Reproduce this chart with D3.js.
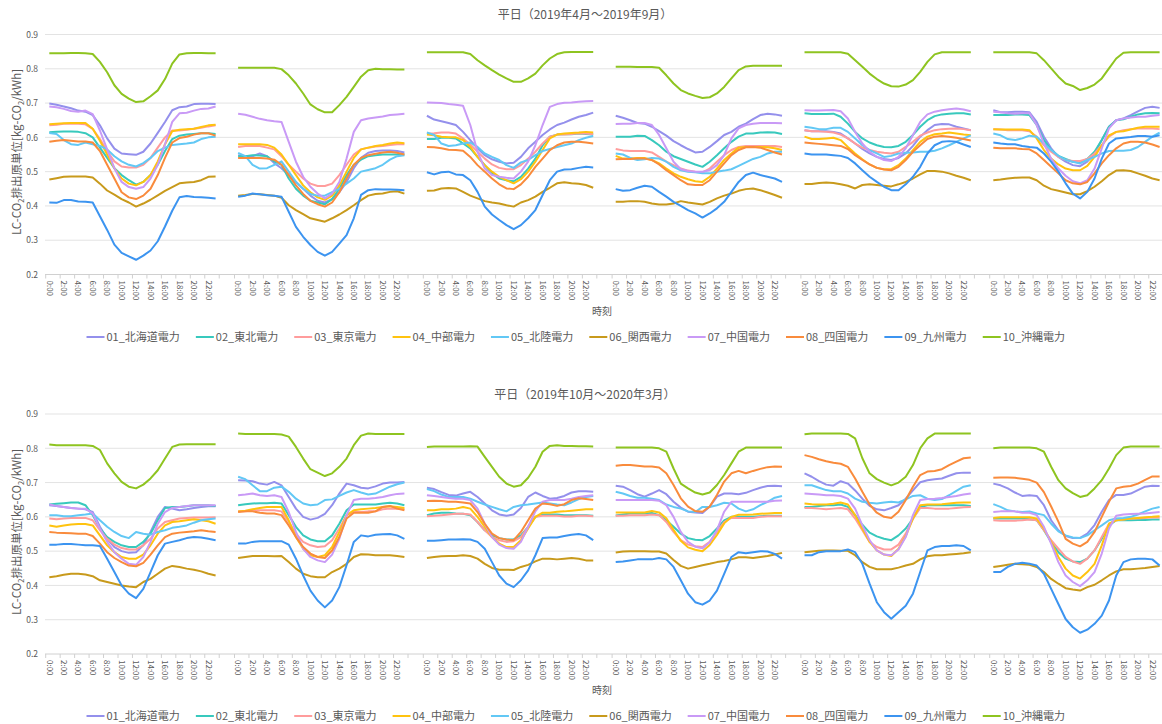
<!DOCTYPE html>
<html lang="ja">
<head>
<meta charset="utf-8">
<script src="https://cdn.jsdelivr.net/npm/d3@7"></script>
<style>
  body { margin: 0; background: #fff; }
  text { font-family: "Noto Sans CJK JP", "Noto Sans", sans-serif; fill: #595959; }
</style>
</head>
<body>
<svg id="chart"></svg>
<script>
// hourly categories and labels
const hours = [0, 1, 2, 3, 4, 5, 6, 7, 8, 9, 10, 11, 12, 13, 14, 15, 16, 17, 18, 19, 20, 21, 22, 23];
const hourLabels = ['0:00', '1:00', '2:00', '3:00', '4:00', '5:00', '6:00', '7:00', '8:00', '9:00', '10:00', '11:00',
  '12:00', '13:00', '14:00', '15:00', '16:00', '17:00', '18:00', '19:00', '20:00', '21:00', '22:00', '23:00'];
const labelledHours = [0, 2, 4, 6, 8, 10, 12, 14, 16, 18, 20, 22];
const yTicks = [0.2, 0.3, 0.4, 0.5, 0.6, 0.7, 0.8, 0.9];

const companies = ['01_北海道電力', '02_東北電力', '03_東京電力', '04_中部電力', '05_北陸電力',
  '06_関西電力', '07_中国電力', '08_四国電力', '09_九州電力', '10_沖縄電力'];
const colors = ['#9490ec', '#38c9bd', '#ff9c9c', '#ffc30f', '#62c8f5',
  '#c89a1c', '#c99af6', '#f98b3c', '#3c94f0', '#8ec420'];

const titles = ['平日（2019年4月～2019年9月）', '平日（2019年10月～2020年3月）'];

// one array per month, series in the order of `companies`
const apr2019 = [
  [.699,.695,.69,.685,.678,.675,.665,.635,.597,.567,.553,.551,.549,.558,.582,.613,.645,.679,.688,.69,.697,.698,.698,.697],
  [.615,.616,.617,.617,.616,.612,.6,.57,.54,.51,.49,.475,.462,.47,.49,.52,.56,.595,.605,.608,.61,.612,.612,.61],
  [.635,.637,.64,.64,.64,.638,.625,.595,.56,.53,.515,.512,.512,.52,.54,.57,.6,.62,.62,.622,.625,.628,.632,.635],
  [.638,.64,.641,.642,.642,.642,.625,.59,.55,.51,.48,.465,.46,.47,.49,.53,.58,.618,.622,.624,.625,.63,.635,.637],
  [.613,.61,.592,.58,.578,.585,.58,.575,.565,.545,.53,.52,.515,.525,.54,.56,.57,.578,.58,.582,.585,.595,.6,.602],
  [.477,.481,.485,.486,.486,.486,.483,.465,.445,.433,.42,.41,.398,.407,.418,.431,.444,.455,.466,.468,.47,.475,.485,.486],
  [.69,.688,.683,.677,.675,.678,.668,.62,.565,.51,.47,.455,.45,.455,.48,.52,.58,.645,.67,.672,.678,.683,.684,.69],
  [.587,.59,.592,.59,.588,.588,.585,.56,.52,.48,.44,.425,.42,.43,.45,.49,.54,.585,.598,.602,.608,.612,.612,.605],
  [.41,.409,.417,.417,.413,.412,.41,.37,.33,.287,.263,.253,.243,.255,.27,.297,.34,.386,.425,.429,.426,.425,.424,.422],
  [.845,.845,.845,.846,.846,.845,.843,.82,.79,.752,.727,.713,.703,.705,.72,.737,.77,.815,.842,.845,.846,.846,.845,.845]
];
const may2019 = [
  [.548,.545,.545,.553,.545,.525,.51,.49,.47,.45,.43,.415,.41,.42,.44,.47,.51,.54,.555,.56,.562,.562,.56,.556],
  [.545,.545,.548,.547,.545,.53,.52,.48,.45,.43,.415,.41,.405,.42,.45,.49,.52,.535,.545,.548,.55,.55,.55,.55],
  [.572,.575,.575,.575,.57,.565,.545,.52,.5,.48,.465,.458,.458,.465,.49,.52,.55,.565,.57,.573,.575,.578,.58,.58],
  [.58,.58,.58,.58,.578,.57,.55,.52,.49,.46,.44,.425,.418,.43,.46,.5,.54,.565,.57,.575,.578,.582,.585,.583],
  [.555,.545,.52,.509,.51,.52,.53,.5,.47,.45,.435,.43,.43,.44,.45,.465,.48,.5,.505,.51,.52,.535,.545,.548],
  [.43,.432,.435,.434,.432,.43,.424,.402,.388,.376,.364,.359,.354,.364,.375,.388,.402,.417,.43,.435,.436,.441,.443,.436],
  [.669,.666,.66,.654,.65,.647,.645,.587,.529,.485,.456,.436,.422,.436,.47,.538,.616,.65,.655,.658,.661,.665,.667,.669],
  [.54,.54,.54,.54,.538,.535,.52,.49,.46,.435,.415,.405,.398,.41,.44,.48,.52,.54,.548,.552,.556,.558,.555,.55],
  [.427,.43,.436,.434,.431,.43,.427,.383,.339,.31,.286,.266,.255,.266,.29,.315,.364,.432,.446,.449,.448,.448,.447,.446],
  [.803,.803,.803,.803,.803,.803,.799,.781,.757,.728,.696,.682,.673,.673,.694,.718,.747,.777,.796,.8,.799,.799,.798,.798]
];
const jun2019 = [
  [.663,.652,.647,.642,.636,.616,.592,.568,.548,.536,.529,.524,.526,.543,.568,.587,.607,.623,.636,.643,.652,.66,.665,.672],
  [.595,.595,.599,.599,.597,.582,.568,.543,.519,.495,.48,.475,.472,.485,.509,.538,.577,.602,.608,.609,.609,.611,.61,.608],
  [.611,.612,.614,.614,.611,.597,.579,.558,.538,.521,.511,.507,.507,.519,.538,.558,.582,.602,.608,.608,.61,.612,.611,.609],
  [.608,.606,.602,.6,.6,.592,.572,.543,.519,.5,.485,.475,.466,.478,.5,.529,.563,.597,.608,.611,.613,.614,.616,.614],
  [.614,.607,.582,.575,.577,.582,.585,.572,.553,.543,.534,.519,.511,.527,.534,.548,.56,.566,.572,.577,.582,.592,.599,.604],
  [.444,.445,.451,.452,.451,.441,.43,.422,.414,.41,.407,.402,.398,.41,.417,.427,.441,.453,.466,.469,.466,.465,.461,.453],
  [.702,.701,.7,.697,.695,.692,.636,.558,.509,.49,.485,.482,.48,.5,.529,.577,.636,.689,.697,.701,.702,.704,.705,.706],
  [.572,.571,.568,.564,.563,.561,.543,.519,.5,.48,.463,.451,.449,.463,.485,.514,.538,.563,.577,.585,.587,.587,.585,.582],
  [.498,.492,.498,.5,.492,.49,.475,.441,.398,.375,.359,.344,.332,.344,.364,.388,.432,.475,.5,.506,.507,.511,.514,.512],
  [.848,.848,.848,.848,.848,.848,.843,.825,.81,.796,.783,.772,.762,.762,.772,.786,.81,.83,.843,.848,.849,.849,.849,.849]
];
const jul2019 = [
  [.663,.657,.65,.642,.64,.631,.618,.605,.589,.577,.566,.556,.558,.572,.589,.607,.616,.631,.64,.653,.665,.669,.667,.663],
  [.602,.602,.602,.605,.604,.592,.577,.558,.545,.537,.529,.521,.514,.529,.548,.568,.587,.602,.611,.611,.614,.615,.614,.61],
  [.566,.562,.56,.56,.56,.556,.543,.529,.519,.509,.503,.5,.498,.509,.529,.548,.563,.572,.575,.575,.575,.575,.575,.572],
  [.546,.538,.538,.54,.54,.534,.524,.509,.495,.485,.478,.472,.47,.485,.509,.534,.553,.57,.572,.572,.572,.571,.568,.563],
  [.553,.55,.54,.534,.536,.54,.538,.529,.514,.504,.5,.498,.495,.495,.5,.503,.507,.517,.527,.537,.543,.553,.558,.558],
  [.412,.412,.414,.414,.412,.407,.404,.404,.407,.414,.41,.407,.404,.412,.422,.43,.436,.444,.449,.451,.446,.439,.432,.424],
  [.639,.64,.64,.642,.642,.636,.607,.568,.529,.507,.502,.5,.5,.504,.519,.548,.597,.626,.636,.64,.642,.642,.642,.641],
  [.536,.537,.537,.538,.538,.534,.521,.504,.49,.475,.463,.461,.461,.475,.5,.524,.548,.563,.571,.572,.57,.563,.556,.55],
  [.449,.444,.446,.453,.459,.456,.441,.427,.412,.4,.388,.378,.366,.378,.393,.412,.441,.47,.49,.497,.49,.485,.48,.47],
  [.806,.806,.806,.805,.805,.805,.803,.781,.757,.738,.728,.721,.715,.717,.728,.747,.772,.796,.807,.809,.809,.809,.809,.809]
];
const aug2019 = [
  [.621,.618,.618,.618,.616,.611,.597,.582,.566,.553,.543,.537,.534,.54,.553,.575,.602,.621,.636,.639,.638,.631,.626,.621],
  [.67,.668,.668,.668,.669,.66,.64,.616,.597,.585,.577,.572,.571,.575,.587,.607,.631,.65,.662,.667,.669,.67,.67,.667],
  [.621,.618,.618,.616,.614,.608,.597,.582,.57,.563,.558,.555,.553,.558,.572,.587,.605,.614,.621,.624,.625,.626,.624,.621],
  [.602,.595,.595,.597,.599,.592,.572,.553,.536,.521,.511,.507,.507,.519,.538,.563,.587,.602,.609,.611,.614,.611,.608,.606],
  [.631,.628,.624,.624,.628,.628,.616,.597,.577,.563,.553,.543,.546,.553,.555,.556,.558,.558,.561,.568,.577,.587,.597,.606],
  [.464,.464,.467,.468,.467,.463,.459,.451,.461,.463,.461,.459,.457,.463,.47,.48,.492,.502,.502,.5,.495,.488,.482,.475],
  [.679,.678,.678,.679,.68,.676,.655,.616,.582,.558,.543,.534,.531,.543,.568,.607,.645,.667,.675,.679,.682,.684,.681,.676],
  [.585,.583,.581,.579,.577,.575,.566,.548,.534,.521,.511,.506,.504,.514,.534,.558,.577,.595,.602,.604,.602,.599,.595,.591],
  [.553,.55,.55,.55,.548,.546,.54,.524,.504,.485,.47,.456,.446,.446,.463,.485,.514,.553,.577,.587,.589,.587,.579,.572],
  [.848,.848,.848,.848,.848,.848,.844,.825,.806,.786,.77,.757,.749,.748,.754,.767,.791,.82,.842,.848,.848,.848,.848,.848]
];
const sep2019 = [
  [.679,.673,.673,.675,.675,.673,.645,.602,.568,.543,.529,.519,.516,.529,.553,.592,.631,.65,.655,.665,.676,.686,.689,.686],
  [.665,.665,.665,.667,.667,.665,.636,.592,.563,.546,.537,.529,.527,.537,.558,.592,.631,.65,.653,.66,.667,.67,.671,.67],
  [.624,.623,.621,.621,.621,.618,.602,.577,.558,.543,.534,.531,.531,.537,.553,.577,.602,.616,.621,.624,.626,.626,.626,.624],
  [.624,.623,.623,.623,.623,.621,.597,.563,.538,.521,.509,.504,.504,.517,.543,.577,.606,.616,.618,.623,.628,.631,.631,.631],
  [.611,.606,.595,.592,.597,.605,.602,.582,.563,.546,.534,.529,.524,.534,.543,.553,.56,.561,.561,.563,.572,.587,.602,.614],
  [.475,.477,.48,.482,.483,.483,.475,.459,.449,.444,.439,.434,.434,.443,.456,.472,.49,.503,.504,.502,.495,.488,.48,.475],
  [.675,.673,.67,.669,.67,.67,.636,.582,.538,.509,.488,.472,.466,.475,.509,.568,.626,.65,.655,.658,.66,.66,.663,.665],
  [.57,.568,.568,.568,.566,.565,.553,.534,.514,.495,.475,.466,.463,.47,.495,.524,.548,.568,.582,.587,.587,.585,.579,.572],
  [.585,.582,.58,.58,.575,.572,.57,.553,.529,.5,.466,.436,.422,.441,.48,.538,.582,.597,.599,.601,.604,.604,.602,.606],
  [.848,.848,.848,.848,.848,.848,.845,.825,.801,.777,.757,.75,.738,.744,.754,.772,.801,.83,.847,.848,.848,.848,.848,.848]
];
const oct2019 = [
  [.634,.632,.629,.626,.624,.622,.614,.571,.536,.512,.5,.495,.497,.517,.556,.6,.629,.624,.619,.622,.626,.629,.631,.631],
  [.636,.638,.64,.642,.642,.634,.605,.566,.541,.527,.517,.512,.512,.527,.551,.59,.626,.629,.629,.631,.634,.634,.634,.632],
  [.595,.593,.595,.597,.597,.597,.59,.561,.536,.519,.509,.505,.505,.517,.536,.566,.585,.59,.595,.597,.598,.598,.598,.599],
  [.575,.571,.575,.578,.579,.579,.575,.546,.517,.497,.483,.478,.478,.49,.517,.551,.575,.585,.587,.59,.593,.59,.587,.58],
  [.605,.605,.602,.602,.605,.607,.61,.59,.571,.556,.544,.538,.556,.551,.548,.556,.561,.568,.571,.575,.583,.59,.593,.595],
  [.424,.427,.431,.434,.434,.432,.427,.415,.41,.405,.4,.397,.395,.41,.419,.434,.449,.457,.454,.449,.446,.441,.434,.429],
  [.636,.632,.629,.626,.624,.624,.61,.566,.527,.497,.478,.463,.46,.483,.527,.58,.614,.626,.629,.632,.634,.634,.634,.634],
  [.556,.554,.553,.552,.551,.551,.544,.522,.497,.48,.468,.458,.456,.466,.49,.517,.541,.551,.554,.556,.558,.561,.558,.556],
  [.519,.519,.521,.521,.519,.517,.517,.515,.478,.439,.4,.376,.363,.39,.439,.488,.522,.527,.532,.538,.541,.54,.536,.532],
  [.811,.809,.809,.809,.809,.809,.807,.795,.756,.727,.702,.688,.683,.694,.712,.736,.77,.804,.811,.812,.812,.812,.812,.812]
];
const nov2019 = [
  [.707,.706,.704,.697,.694,.702,.692,.658,.624,.6,.592,.597,.609,.634,.668,.697,.692,.685,.683,.689,.697,.7,.7,.702],
  [.634,.637,.639,.64,.64,.641,.639,.605,.571,.546,.534,.529,.529,.546,.58,.619,.636,.636,.636,.636,.639,.641,.639,.634],
  [.616,.616,.619,.619,.619,.619,.616,.585,.551,.527,.517,.512,.514,.532,.566,.605,.614,.614,.616,.616,.622,.624,.624,.622],
  [.616,.618,.622,.626,.629,.629,.629,.59,.541,.507,.488,.483,.488,.512,.556,.605,.619,.622,.624,.626,.629,.631,.629,.626],
  [.717,.71,.692,.675,.675,.685,.688,.673,.653,.639,.634,.636,.649,.651,.661,.671,.678,.671,.665,.668,.678,.688,.695,.7],
  [.48,.483,.486,.486,.486,.485,.486,.468,.449,.434,.427,.424,.424,.439,.449,.463,.483,.491,.49,.488,.488,.488,.486,.483],
  [.663,.665,.668,.663,.661,.663,.658,.614,.556,.507,.483,.473,.468,.49,.536,.605,.649,.653,.653,.655,.658,.663,.667,.668],
  [.614,.616,.616,.612,.61,.61,.605,.575,.541,.512,.493,.483,.48,.502,.541,.595,.612,.612,.612,.616,.629,.632,.624,.619],
  [.522,.522,.527,.529,.529,.529,.529,.519,.478,.429,.385,.356,.336,.356,.395,.459,.527,.546,.543,.548,.549,.55,.546,.536],
  [.843,.842,.842,.842,.842,.842,.84,.834,.804,.77,.739,.729,.719,.727,.746,.77,.809,.837,.843,.842,.842,.842,.842,.842]
];
const dec2019 = [
  [.685,.681,.672,.664,.662,.668,.673,.658,.639,.619,.607,.603,.607,.626,.658,.671,.661,.653,.655,.661,.671,.675,.675,.673],
  [.605,.61,.612,.612,.61,.609,.605,.585,.561,.546,.538,.534,.534,.546,.571,.6,.607,.607,.607,.605,.605,.605,.605,.603],
  [.602,.603,.605,.607,.609,.609,.607,.585,.561,.541,.532,.527,.529,.541,.571,.6,.603,.603,.603,.601,.601,.603,.603,.602],
  [.619,.619,.622,.622,.624,.629,.624,.6,.571,.541,.522,.512,.512,.532,.566,.6,.612,.612,.615,.616,.618,.62,.622,.622],
  [.681,.675,.665,.658,.658,.658,.653,.644,.636,.629,.622,.616,.629,.634,.636,.639,.642,.639,.636,.634,.642,.652,.658,.661],
  [.48,.483,.485,.486,.486,.488,.486,.478,.463,.451,.446,.446,.445,.454,.46,.47,.478,.478,.476,.478,.48,.478,.473,.473],
  [.663,.661,.658,.655,.653,.653,.649,.624,.58,.541,.519,.509,.507,.527,.571,.616,.644,.649,.649,.649,.653,.658,.661,.663],
  [.646,.647,.646,.644,.644,.642,.639,.614,.58,.551,.538,.534,.532,.556,.59,.624,.639,.637,.632,.637,.649,.654,.652,.649],
  [.53,.53,.532,.534,.534,.535,.534,.527,.507,.468,.429,.405,.395,.415,.444,.488,.538,.54,.54,.544,.548,.55,.546,.532],
  [.804,.805,.805,.805,.805,.805,.806,.805,.775,.746,.717,.697,.688,.692,.714,.746,.79,.807,.809,.807,.807,.806,.806,.805]
];
const jan2020 = [
  [.691,.688,.678,.666,.659,.668,.678,.666,.644,.627,.615,.613,.611,.63,.659,.668,.668,.666,.67,.678,.685,.69,.691,.689],
  [.604,.607,.61,.61,.61,.611,.605,.59,.571,.551,.538,.533,.532,.544,.566,.59,.6,.6,.6,.6,.602,.603,.603,.603],
  [.603,.603,.605,.605,.605,.607,.605,.585,.556,.532,.519,.514,.512,.527,.556,.585,.597,.597,.597,.597,.6,.602,.602,.602],
  [.613,.613,.613,.613,.613,.617,.613,.596,.562,.53,.511,.504,.5,.518,.547,.581,.6,.606,.606,.607,.609,.61,.611,.611],
  [.673,.668,.661,.656,.656,.653,.649,.636,.629,.624,.616,.614,.629,.629,.634,.641,.639,.624,.616,.622,.634,.644,.656,.661],
  [.496,.499,.5,.5,.5,.499,.499,.493,.474,.457,.449,.454,.459,.463,.468,.471,.476,.482,.482,.48,.483,.486,.49,.495],
  [.649,.649,.649,.649,.649,.649,.647,.634,.6,.556,.527,.513,.508,.526,.561,.615,.644,.644,.644,.644,.644,.644,.647,.648],
  [.749,.751,.751,.749,.747,.747,.744,.727,.693,.654,.63,.617,.615,.63,.664,.703,.727,.734,.727,.734,.74,.745,.747,.746],
  [.468,.47,.473,.476,.476,.476,.48,.476,.454,.415,.376,.351,.344,.356,.385,.434,.483,.497,.494,.497,.5,.499,.492,.478],
  [.802,.802,.802,.802,.802,.802,.8,.79,.741,.697,.683,.671,.665,.671,.693,.722,.756,.79,.802,.802,.802,.802,.802,.802]
];
const feb2020 = [
  [.727,.717,.704,.694,.691,.704,.697,.677,.653,.632,.622,.619,.626,.634,.653,.677,.701,.707,.71,.712,.72,.727,.729,.729],
  [.629,.629,.632,.634,.634,.636,.629,.605,.577,.554,.543,.536,.532,.546,.566,.595,.629,.634,.634,.634,.634,.634,.634,.632],
  [.626,.626,.624,.622,.624,.626,.622,.595,.561,.527,.512,.505,.505,.519,.551,.595,.626,.626,.624,.624,.624,.626,.628,.629],
  [.639,.637,.636,.636,.638,.642,.636,.605,.566,.527,.502,.49,.486,.507,.544,.595,.634,.636,.636,.637,.639,.641,.642,.642],
  [.692,.692,.685,.678,.675,.675,.668,.653,.644,.641,.639,.642,.644,.642,.651,.661,.663,.653,.649,.652,.663,.676,.688,.692],
  [.497,.499,.501,.502,.502,.501,.501,.488,.468,.454,.447,.447,.447,.452,.458,.463,.476,.485,.488,.488,.49,.492,.494,.497],
  [.668,.667,.665,.663,.663,.661,.653,.624,.575,.532,.502,.49,.488,.505,.541,.605,.649,.652,.653,.655,.658,.661,.665,.668],
  [.78,.775,.768,.762,.758,.755,.746,.712,.673,.636,.612,.6,.597,.615,.649,.688,.722,.732,.734,.739,.751,.761,.771,.773],
  [.488,.488,.497,.5,.5,.5,.505,.497,.463,.405,.351,.322,.303,.322,.341,.376,.439,.502,.512,.515,.515,.517,.515,.502],
  [.841,.843,.843,.843,.843,.843,.842,.829,.771,.727,.71,.7,.692,.7,.717,.751,.8,.829,.843,.843,.843,.843,.843,.843]
];
const mar2020 = [
  [.697,.692,.683,.671,.661,.663,.661,.634,.59,.561,.544,.538,.539,.551,.576,.615,.649,.664,.664,.668,.678,.688,.691,.69],
  [.595,.595,.595,.595,.595,.593,.59,.561,.527,.497,.478,.47,.468,.478,.502,.536,.575,.59,.59,.59,.591,.591,.592,.592],
  [.59,.589,.589,.589,.59,.592,.59,.561,.532,.507,.483,.47,.463,.478,.502,.541,.58,.59,.592,.595,.595,.597,.598,.598],
  [.597,.599,.599,.599,.599,.599,.595,.566,.527,.483,.449,.429,.42,.439,.463,.517,.58,.59,.592,.595,.597,.599,.6,.602],
  [.637,.629,.619,.616,.614,.616,.61,.605,.58,.558,.546,.54,.538,.546,.561,.575,.59,.595,.597,.6,.607,.616,.624,.629],
  [.454,.457,.46,.463,.462,.46,.454,.439,.419,.405,.392,.388,.385,.395,.402,.415,.429,.441,.447,.447,.449,.451,.454,.457],
  [.614,.616,.616,.616,.612,.612,.605,.571,.522,.468,.429,.41,.398,.415,.439,.493,.566,.603,.607,.608,.609,.61,.612,.614],
  [.714,.715,.715,.714,.711,.708,.7,.672,.63,.586,.536,.522,.514,.527,.556,.6,.644,.683,.688,.69,.697,.708,.718,.718],
  [.439,.439,.454,.463,.466,.463,.458,.434,.39,.346,.302,.278,.262,.271,.288,.312,.356,.429,.468,.476,.478,.478,.476,.458],
  [.8,.802,.802,.802,.802,.802,.8,.79,.746,.707,.683,.669,.658,.663,.683,.707,.741,.78,.802,.805,.805,.805,.805,.805]
];

const periods = [
  [apr2019, may2019, jun2019, jul2019, aug2019, sep2019],
  [oct2019, nov2019, dec2019, jan2020, feb2020, mar2020]
];

// layout
const width = 1162, height = 724;
const rows = [
  { top: 34.5, bottom: 274.5, title: 19, axisTitle: 315, legend: 337, yTitle: 152 },
  { top: 414, bottom: 654, title: 399, axisTitle: 694, legend: 716, yTitle: 532 }
];
const plotLeft = 45, plotRight = width;
const panelStart = 45.7, panelStep = 188.8, categoryWidth = 7.23;

const svg = d3.select('#chart').attr('width', width).attr('height', height);

rows.forEach((row, r) => {
  let y = d3.scaleLinear().domain([0.2, 0.9]).range([row.bottom, row.top]);
  let g = svg.append('g');

  // gridlines
  g.append('g')
    .selectAll('line')
    .data(yTicks)
    .join('line')
    .attr('x1', plotLeft)
    .attr('x2', plotRight)
    .attr('y1', (d) => y(d))
    .attr('y2', (d) => y(d))
    .attr('stroke', (d) => (d === 0.2 ? '#d0d0d0' : '#e3e3e3'))
    .attr('stroke-width', 1);

  // y axis labels
  let yAxis = d3.axisLeft(y).tickValues(yTicks).tickFormat(d3.format('.1f')).tickSize(0).tickPadding(0);
  g.append('g')
    .attr('transform', 'translate(38,0)')
    .call(yAxis)
    .call((a) => a.select('.domain').remove())
    .selectAll('text')
    .attr('font-size', '8.5px')
    .attr('font-family', '"Noto Sans CJK JP", sans-serif')
    .style('fill', '#595959');

  // y axis title with subscripts
  let yt = g.append('text')
    .attr('transform', 'translate(21,' + row.yTitle + ') rotate(-90)')
    .attr('text-anchor', 'middle')
    .attr('font-size', '11.5px');
  yt.append('tspan').text('LC-CO');
  yt.append('tspan').text('2').attr('font-size', '7.5px').attr('dy', 3);
  yt.append('tspan').text('排出原単位[kg-CO').attr('dy', -3);
  yt.append('tspan').text('2').attr('font-size', '7.5px').attr('dy', 3);
  yt.append('tspan').text('/kWh]').attr('dy', -3);

  // title
  g.append('text')
    .attr('x', 585)
    .attr('y', row.title)
    .attr('text-anchor', 'middle')
    .attr('font-size', '12px')
    .text(titles[r]);

  // panels
  periods[r].forEach((month, p) => {
    let x0 = panelStart + p * panelStep;
    let x = d3.scaleBand().domain(hours).range([x0, x0 + hours.length * categoryWidth]);

    // tick marks between categories
    let tickPos = labelledHours.map((h) => x(h)).concat([x0 + hours.length * categoryWidth]);
    g.append('g')
      .selectAll('line')
      .data(tickPos)
      .join('line')
      .attr('x1', (d) => d)
      .attr('x2', (d) => d)
      .attr('y1', row.bottom)
      .attr('y2', row.bottom + 4)
      .attr('stroke', '#d0d0d0');

    let xAxis = d3.axisBottom(x)
      .tickValues(labelledHours)
      .tickFormat((h) => hourLabels[h])
      .tickSize(0);
    g.append('g')
      .attr('transform', 'translate(0,' + row.bottom + ')')
      .call(xAxis)
      .call((a) => a.select('.domain').remove())
      .selectAll('text')
      .attr('transform', 'rotate(90)')
      .attr('x', 6)
      .attr('y', 0)
      .attr('dy', '0.35em')
      .attr('text-anchor', 'start')
      .attr('font-size', '8px')
      .attr('font-family', '"Noto Sans CJK JP", sans-serif')
      .style('fill', '#595959');

    let line = d3.line()
      .x((d, i) => x(hours[i]) + x.bandwidth() / 2)
      .y((d) => y(d));

    month.forEach((values, s) => {
      g.append('path')
        .datum(values)
        .attr('fill', 'none')
        .attr('stroke', colors[s])
        .attr('stroke-width', 2)
        .attr('stroke-linejoin', 'round')
        .attr('d', line);
    });
  });

  // x axis title
  g.append('text')
    .attr('x', 602)
    .attr('y', row.axisTitle)
    .attr('text-anchor', 'middle')
    .attr('font-size', '10px')
    .text('時刻');

  // legend, laid out one item after another
  let lx = 86.5;
  companies.forEach((name, s) => {
    let item = g.append('g').attr('transform', 'translate(' + lx + ',' + row.legend + ')');
    item.append('line')
      .attr('x1', 0)
      .attr('x2', 18)
      .attr('stroke', colors[s])
      .attr('stroke-width', 2);
    let t = item.append('text')
      .attr('x', 20)
      .attr('dy', '0.35em')
      .attr('font-size', '11px')
      .text(name);
    lx += 20 + t.node().getComputedTextLength() + 16;
  });
});
</script>
</body>
</html>
